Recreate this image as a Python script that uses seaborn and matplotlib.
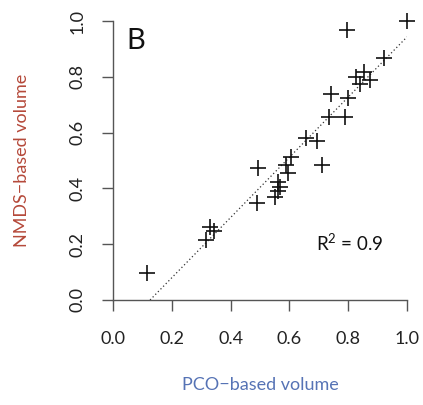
import numpy as np
import pandas as pd
import matplotlib
matplotlib.use("Agg")
import matplotlib.pyplot as plt
import seaborn as sns

pco_volume = [1.0, 0.796, 0.922, 0.854, 0.827, 0.874, 0.840, 0.741, 0.799, 0.735,
              0.789, 0.656, 0.694, 0.605, 0.588, 0.711, 0.493, 0.595, 0.561, 0.568,
              0.561, 0.551, 0.490, 0.330, 0.344, 0.316, 0.116]
nmds_volume = [1.0, 0.968, 0.867, 0.817, 0.799, 0.789, 0.774, 0.738, 0.724, 0.656,
               0.656, 0.581, 0.570, 0.513, 0.484, 0.484, 0.473, 0.455, 0.423, 0.405,
               0.391, 0.369, 0.348, 0.262, 0.247, 0.215, 0.097]
fit_intercept = -0.136
fit_slope = 1.079
tick_values = [0.0, 0.2, 0.4, 0.6, 0.8, 1.0]
tick_labels = ["0.0", "0.2", "0.4", "0.6", "0.8", "1.0"]
panel_label = "B"
r2_text = r"R$^2$ = 0.9"
x_label = "PCO\u2212based volume"
y_label = "NMDS\u2212based volume"

sns.set_theme(style="ticks")
plt.rcParams['font.family'] = ['Lato', 'DejaVu Sans']
plt.rcParams['mathtext.fontset'] = 'custom'
plt.rcParams['mathtext.rm'] = 'Lato'

df = pd.DataFrame({"pco": pco_volume, "nmds": nmds_volume})

fig = plt.figure(figsize=(4.23, 4.05), dpi=100)
ax = fig.add_axes([113/423, 1 - 300/405, 294/423, 279/405])

sns.scatterplot(data=df, x="pco", y="nmds", marker="+", s=120, color="#111111",
                linewidth=1.2, ax=ax, clip_on=False, zorder=3)

x0 = -fit_intercept / fit_slope
xs = np.array([x0, 1.0])
ax.plot(xs, fit_intercept + fit_slope * xs, color="#333333", lw=0.9,
        linestyle=(0, (1, 2)), zorder=2)

ax.set_xlim(0, 1)
ax.set_ylim(0, 1)
ax.set_xticks(tick_values)
ax.set_xticklabels(tick_labels)
ax.set_yticks(tick_values)
ax.set_yticklabels(tick_labels, rotation=90, va="center")
for s in ["top", "right"]:
    ax.spines[s].set_visible(False)
for s in ["left", "bottom"]:
    ax.spines[s].set_color("#555555")
    ax.spines[s].set_linewidth(1.0)
ax.tick_params(axis="both", direction="out", length=8, width=1.0, color="#555555",
               labelsize=13, labelcolor="#222222", bottom=True, left=True)
ax.tick_params(axis="x", pad=14)
ax.tick_params(axis="y", pad=12)

ax.set_xlabel(x_label, color="#5673B5", fontsize=13, labelpad=22)
ax.set_ylabel(y_label, color="#B5493A", fontsize=13, labelpad=28)

ax.text(0.045, 0.93, panel_label, transform=ax.transAxes, fontsize=21,
        color="#111111", va="center", ha="left")
ax.text(0.69, 0.205, r2_text, transform=ax.transAxes, fontsize=13.5,
        color="#111111", va="center", ha="left")

fig.savefig("out.png", dpi=100)
